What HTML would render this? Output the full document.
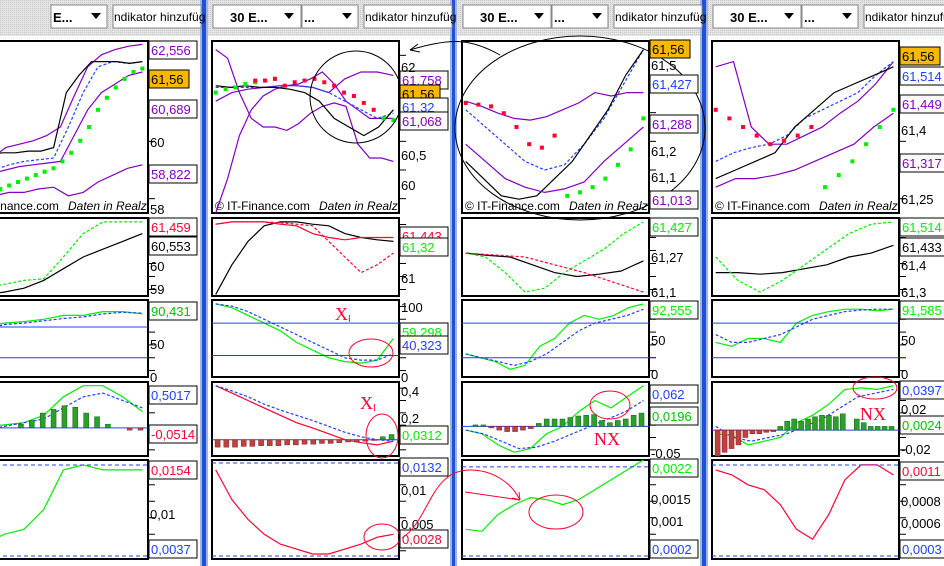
<!DOCTYPE html>
<html><head><meta charset="utf-8"><style>
body{margin:0;width:944px;height:566px;overflow:hidden;background:#fff;font-family:"Liberation Sans",sans-serif}
svg{display:block}
</style></head><body>
<svg id="s" width="944" height="566" xmlns="http://www.w3.org/2000/svg" font-family="Liberation Sans, sans-serif">
<defs><pattern id="dot" width="2" height="2" patternUnits="userSpaceOnUse"><rect width="2" height="2" fill="#e4e4e4"/><rect width="1" height="1" fill="#c8c8c8"/></pattern></defs>
<rect width="944" height="566" fill="#fff"/>
<rect width="944" height="36" fill="url(#dot)"/>
</svg>
<script>
const S=document.getElementById('s');const NS='http://www.w3.org/2000/svg';
function el(t,a,txt){const e=document.createElementNS(NS,t);for(const k in a)e.setAttribute(k,a[k]);if(txt!==undefined)e.textContent=txt;S.appendChild(e);return e;}
const X0=[-39,212,462,712],W=187;
const P=[[41,213],[218,296],[300,377],[382,456],[460,559]];
// separators
[[200,208],[450,457],[700,708]].forEach(s=>{el('rect',{x:s[0],y:0,width:s[1]-s[0],height:566,fill:'#9cb4e0'});el('rect',{x:s[0]+2,y:0,width:s[1]-s[0]-4,height:566,fill:'#2050d8'});});
// toolbar
X0.forEach((x,i)=>{
 if(i>0){el('rect',{x:x+1,y:5,width:88,height:23,fill:'#fff',stroke:'#888'});el('text',{x:x+18,y:22,'font-size':13,'font-weight':'bold'},'30 E...');el('path',{d:`M${x+72} 13h10l-5 6z`,fill:'#000'});}
 el('rect',{x:x+90,y:5,width:56,height:23,fill:'#fff',stroke:'#888'});el('text',{x:x+92,y:22,'font-size':13,'font-weight':'bold'},i==0?'E...':'...');el('path',{d:`M${x+130} 13h10l-5 6z`,fill:'#000'});
 el('rect',{x:x+152,y:5,width:88,height:23,fill:'#fff',stroke:'#888'});el('text',{x:x+153,y:21,'font-size':12},'ndikator hinzufüg');
});
function px(c,p,fx,fy){return [X0[c]+fx*W,P[p][0]+fy*(P[p][1]-P[p][0])];}
function line(c,p,pts,col,dash,w){const d=pts.map((v,i)=>{const q=px(c,p,i/(pts.length-1)*0.95+0.02,v);return q[0].toFixed(1)+','+q[1].toFixed(1)}).join(' ');const a={points:d,fill:'none',stroke:col,'stroke-width':w||1.2};if(dash)a['stroke-dasharray']='3,2';el('polyline',a);}
function dots(c,p,pts,col){pts.forEach((v,i)=>{if(v==null)return;const q=px(c,p,i/(pts.length-1)*0.95+0.02,v);el('rect',{x:q[0]-2,y:q[1]-2,width:4,height:4,fill:col});});}
function bars(c,p,base,vals){vals.forEach((v,i)=>{const q=px(c,p,i/(vals.length-1)*0.93+0.03,base);const h=v*(P[p][1]-P[p][0]);el('rect',{x:q[0]-2.5,y:h>0?q[1]-h:q[1],width:5,height:Math.abs(h),fill:h>0?'#2ca02c':'#c04040',stroke:h>0?'#106010':'#802020','stroke-width':.5});});}
function hl(c,p,fy,col,dash){const q=px(c,p,0,fy);el('line',{x1:X0[c],x2:X0[c]+W,y1:q[1],y2:q[1],stroke:col,'stroke-dasharray':dash?'4,3':'none'});}
function frames(c){P.forEach((pp,i)=>{el('rect',{x:X0[c],y:pp[0],width:W,height:pp[1]-pp[0],fill:'none',stroke:'#000','stroke-width':2});
 for(let t=0;t<6;t++){const y=pp[0]+(t+0.5)*(pp[1]-pp[0])/6;el('line',{x1:X0[c]+W,x2:X0[c]+W+7,y1:y,y2:y,stroke:'#000'});}});
 el('text',{x:X0[c]+3,y:210,'font-size':12},'© IT-Finance.com ');el('text',{x:X0[c]+107,y:210,'font-size':12,'font-style':'italic'},'Daten in Realz');
}
function lab(c,y,t,col,bg,bw){const x=X0[c]+W+1;el('rect',{x:x,y:y-9,width:bw||48,height:18,fill:bg||'#fff',stroke:'#000'});el('text',{x:x+2,y:y+5,'font-size':13,fill:col},t);}
function tick(c,y,t){el('text',{x:X0[c]+W+2,y:y+5,'font-size':13},t);}
for(let c=0;c<4;c++)frames(c);
const PU='#8000c0',BL='#2040ff',GR='#00ee00',RD='#ff0030';
// ---- column 0
line(0,0,[.75,.72,.68,.62,.6,.58,.55,.5,.32,.15,.08,.05,.03,.02],PU);
line(0,0,[.95,.92,.9,.88,.88,.86,.85,.9,.88,.82,.78,.74,.72],PU);
line(0,0,[.82,.8,.77,.75,.73,.72,.71,.7,.55,.4,.3,.25,.2,.18],PU);
line(0,0,[.82,.78,.75,.72,.7,.69,.68,.5,.3,.15,.12,.13,.12],BL,1);
dots(0,0,[.95,.93,.9,.88,.86,.84,.82,.8,.78,.76,.74,.7,.65,.58,.5,.4,.33,.27,.22,.18,.16],GR);
line(0,0,[.7,.68,.66,.65,.65,.64,.64,.62,.3,.2,.12,.12,.12,.13,.12],'#000');
line(0,1,[.98,.9,.85,.8,.78,.5,.2,.05,.05,.05],GR,1);line(0,1,[1,.98,.95,.9,.8,.65,.5,.4,.3,.2],'#000');
line(0,2,[.4,.35,.3,.28,.25,.2,.2,.15,.15,.18],GR);line(0,2,[.42,.38,.32,.3,.27,.24,.22,.18,.16,.17],BL,1);hl(0,2,.35,BL);hl(0,2,.75,BL);
line(0,3,[.62,.6,.58,.55,.45,.2,.05,.05,.2,.4],GR);line(0,3,[.7,.65,.6,.55,.5,.35,.2,.15,.25,.35],BL,1);hl(0,3,.62,BL);
bars(0,3,.62,[0,0,0,0,0,.05,.1,.2,.25,.3,.28,.2,.15,.05,0,-.03,-.03]);
line(0,4,[.9,.85,.75,.7,.5,.1,.05,.1,.1,.1],GR);hl(0,4,.05,BL,1);hl(0,4,.97,BL,1);
lab(0,50,'62,556',PU);lab(0,79,'61,56','#000','#f8b800',40);lab(0,109,'60,689',PU);lab(0,174,'58,822',PU);tick(0,142,'60');tick(0,209,'58');
lab(0,227,'61,459',RD);lab(0,246,'60,553','#000');tick(0,266,'60');tick(0,289,'59');
lab(0,311,'90,431','#00c000');tick(0,344,'50');tick(0,377,'0');lab(0,395,'0,5017',BL);lab(0,434,'-0,0514',RD);
lab(0,470,'0,0154',RD);tick(0,514,'0,01');lab(0,549,'0,0037',BL);
// ---- column 1
line(1,0,[.05,.1,.3,.45,.5,.5,.52,.48,.42,.38,.36,.38,.6,.68,.68,.7],PU);
line(1,0,[1,.8,.55,.4,.32,.28,.26,.25,.22,.18,.25,.35,.4,.45,.45,.45],PU);
line(1,0,[.35,.3,.28,.27,.26,.26,.27,.3,.22,.18,.18,.2],PU);
line(1,0,[.27,.27,.27,.27,.26,.26,.27,.3,.35,.4,.45,.42],BL,1);
line(1,0,[.26,.27,.26,.27,.27,.28,.3,.35,.45,.5,.55,.5,.4],'#000');
dots(1,0,[.3,.28,.27,.25,.24,.23,.22,null,null,null,null,null,null,null,null,null,null,.45,.46],GR);
dots(1,0,[null,null,null,null,.23,.23,.22,.26,.24,.23,.22,.24,.26,.3,.32,.36,.4,null,null],RD);
el('circle',{cx:356,cy:97,r:46,fill:'none',stroke:'#000'});
lab(1,80,'61,758',PU);lab(1,94,'61,56','#000','#f8b800',40);lab(1,107,'61,32',BL);lab(1,121,'61,068',PU);tick(1,67,'62');tick(1,155,'60,5');tick(1,185,'60');
line(1,1,[.98,.6,.3,.1,.05,.05,.08,.1,.2,.25,.28,.3],'#000');line(1,1,[.08,.05,.05,.05,.06,.08,.1,.3,.5,.7,.6,.45],RD,1);line(1,1,[.08,.05,.05,.05,.08,.1,.2,.25,.28,.25,.25,.25],RD);
lab(1,236,'61,443',RD);lab(1,247,'61,32',GR);tick(1,278,'61');
line(1,2,[.05,.1,.2,.3,.4,.55,.65,.75,.8,.82,.78,.5],GR);line(1,2,[.05,.08,.15,.25,.35,.45,.55,.65,.75,.78,.78,.7],BL,1);hl(1,2,.3,BL);hl(1,2,.72,BL);
el('ellipse',{cx:371,cy:353,rx:22,ry:14,fill:'none',stroke:RD});el('text',{x:335,y:320,'font-size':18,fill:RD,'font-family':'Liberation Serif'},'X',);el('text',{x:348,y:322,'font-size':10,fill:RD},'I');
lab(1,332,'59,298',GR);lab(1,345,'40,323',BL);tick(1,307,'100');tick(1,377,'0');
line(1,3,[.05,.15,.25,.35,.45,.55,.62,.7,.78,.82,.85,.8],RD);line(1,3,[.05,.12,.2,.3,.38,.45,.52,.6,.68,.74,.78,.8],BL,1);hl(1,3,.78,BL);
bars(1,3,.78,[-.1,-.1,-.1,-.09,-.09,-.08,-.08,-.08,-.07,-.07,-.06,-.06,-.05,-.05,-.04,-.03,-.03,-.02,-.01,.04,.07]);
el('ellipse',{cx:382,cy:436,rx:16,ry:22,fill:'none',stroke:RD});el('text',{x:360,y:409,'font-size':18,fill:RD,'font-family':'Liberation Serif'},'X');el('text',{x:373,y:411,'font-size':10,fill:RD},'I');
lab(1,435,'0,0312',GR);tick(1,391,'0,4');tick(1,418,'0,2');
line(1,4,[.1,.4,.6,.75,.85,.9,.95,.95,.9,.85,.78,.75],RD);hl(1,4,.03,BL,1);hl(1,4,.97,BL,1);
el('ellipse',{cx:382,cy:537,rx:18,ry:13,fill:'none',stroke:RD});
lab(1,467,'0,0132',BL);tick(1,490,'0,01');tick(1,524,'0,005');lab(1,539,'0,0028',RD);
// arrow between cols
el('path',{d:'M402,538 C430,520 430,470 470,470 C490,470 510,480 520,500',fill:'none',stroke:RD});
el('path',{d:'M520,500 l-8,-2 m8,2 l-1,-8',stroke:RD,fill:'none'});
el('path',{d:'M410,50 C450,38 470,38 500,55',fill:'none',stroke:'#000'});el('path',{d:'M410,50 l8,-6 m-8,6 l10,2',stroke:'#000',fill:'none'});
// ---- column 2
line(2,0,[.35,.38,.42,.45,.46,.44,.4,.36,.3,.32,.3,.3],PU);
line(2,0,[.4,.5,.6,.7,.75,.72,.6,.45,.25,.05],BL,1);
line(2,0,[.7,.8,.9,.92,.9,.8,.7,.55,.4,.2,.05],'#000');
line(2,0,[.6,.7,.8,.85,.88,.86,.82,.7,.6,.5],PU);
dots(2,0,[.36,.37,.38,.42,.5,.6,.62,.55,null,null,null,null,null,null,null],RD);
dots(2,0,[null,null,null,null,null,null,null,null,.9,.88,.85,.8,.72,.63,.45],GR);
el('ellipse',{cx:580,cy:128,rx:125,ry:92,fill:'none',stroke:'#000'});
lab(2,49,'61,56','#000','#f8b800',40);lab(2,84,'61,427',BL);lab(2,124,'61,288',PU);lab(2,200,'61,013',PU);tick(2,65,'61,5');tick(2,151,'61,2');tick(2,177,'61,1');
line(2,1,[.45,.48,.5,.6,.7,.75,.72,.68,.55],'#000');line(2,1,[.45,.5,.7,.95,.9,.7,.55,.4,.2,.05],GR,1);line(2,1,[.45,.5,.7,.95],RD,1);
lab(2,227,'61,427',GR);tick(2,257,'61,27');tick(2,292,'61,1');
line(2,2,[.7,.75,.8,.9,.85,.6,.5,.3,.2,.25,.2,.1,.05],GR);line(2,2,[.7,.75,.8,.85,.8,.7,.55,.4,.3,.25,.2,.12],BL,1);hl(2,2,.3,BL);hl(2,2,.75,BL);
lab(2,310,'92,555',GR);tick(2,340,'50');tick(2,374,'0');
line(2,3,[.65,.7,.85,.95,.9,.7,.6,.4,.25,.35,.2,.05],GR);line(2,3,[.65,.7,.8,.9,.88,.8,.7,.6,.5,.4,.25],BL,1);hl(2,3,.6,BL);
bars(2,3,.6,[0,.02,.02,-.02,-.05,-.07,-.07,-.05,-.03,.04,.1,.1,.1,.12,.14,.15,.16,.08,.05,.08,.1,.15,.18]);
el('ellipse',{cx:610,cy:405,rx:20,ry:14,fill:'none',stroke:RD});el('text',{x:594,y:445,'font-size':18,fill:RD,'font-family':'Liberation Serif'},'NX');
lab(2,394,'0,062',BL);lab(2,416,'0,0196','#00c000');tick(2,453,'-0,05');
line(2,4,[.7,.72,.55,.45,.38,.4,.45,.4,.3,.2,.1,.0],GR);hl(2,4,.07,BL,1);hl(2,4,.97,BL,1);
el('ellipse',{cx:556,cy:512,rx:27,ry:17,fill:'none',stroke:RD});el('path',{d:'M465,492 L520,500',stroke:RD,fill:'none'});
lab(2,468,'0,0022',GR);tick(2,499,'0,0015');tick(2,521,'0,001');lab(2,549,'0,0002',BL);
// ---- column 3
line(3,0,[.15,.12,.5,.6,.6,.55,.5,.42,.35,.25,.12],PU);
line(3,0,[.7,.65,.62,.6,.55,.45,.4,.35,.3,.2,.12],BL,1);
line(3,0,[.8,.75,.7,.65,.5,.4,.3,.25,.2,.15],'#000');
line(3,0,[.85,.8,.8,.78,.75,.7,.65,.6,.5,.42],PU);
dots(3,0,[.4,.45,.5,.55,.6,.58,.55,.5,null,null,null,null,null,null],RD);
dots(3,0,[null,null,null,null,null,null,null,null,.85,.78,.7,.6,.5,.4],GR);
lab(3,56,'61,56','#000','#f8b800',40);lab(3,76,'61,514',BL);lab(3,104,'61,449',PU);lab(3,163,'61,317',PU);tick(3,130,'61,4');tick(3,199,'61,25');
line(3,1,[.7,.7,.72,.7,.65,.6,.5,.45,.35],'#000');line(3,1,[.5,.8,.95,.8,.6,.4,.2,.08,.05],GR,1);
lab(3,227,'61,514',GR);lab(3,247,'61,433','#000');tick(3,265,'61,4');tick(3,292,'61,3');
line(3,2,[.55,.6,.5,.5,.55,.3,.2,.15,.12,.12,.14,.12],GR);line(3,2,[.45,.55,.55,.5,.45,.35,.25,.2,.15,.13,.12,.12],BL,1);hl(3,2,.3,BL);hl(3,2,.75,BL);
lab(3,310,'91,585',GR);tick(3,340,'50');tick(3,374,'0');
line(3,3,[.7,.72,.85,.8,.75,.55,.45,.3,.1,.08,.1,.05],GR);line(3,3,[.6,.75,.8,.75,.7,.6,.5,.35,.2,.15,.1],BL,1);hl(3,3,.65,BL);
bars(3,3,.65,[-.35,-.3,-.25,-.2,-.1,-.05,-.05,-.03,-.02,.05,.12,.15,.12,.15,.18,.2,.2,.18,.22,0,.15,.1,.05,.05,.05,.05]);
el('ellipse',{cx:875,cy:388,rx:22,ry:11,fill:'none',stroke:RD});el('text',{x:860,y:420,'font-size':18,fill:RD,'font-family':'Liberation Serif'},'NX');
lab(3,390,'0,0397',BL);lab(3,425,'0,0024','#00c000');tick(3,409,'0,02');tick(3,449,'-0,02');
line(3,4,[.1,.15,.25,.3,.45,.7,.8,.55,.2,.05,.05,.15],RD);hl(3,4,.05,BL,1);hl(3,4,.97,BL,1);
lab(3,471,'0,0011',RD);tick(3,501,'0,0008');tick(3,523,'0,0006');lab(3,549,'0,0003',BL);
</script>
</body></html>
